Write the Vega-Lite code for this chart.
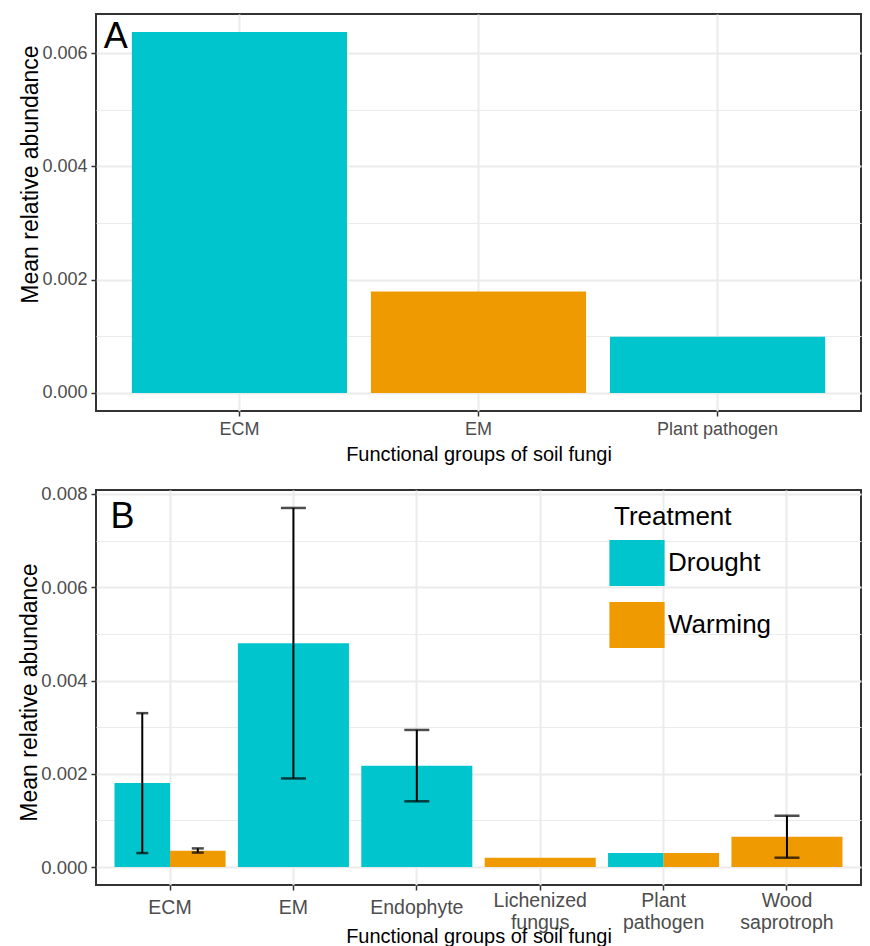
{
  "$schema": "https://vega.github.io/schema/vega-lite/v6.json",
  "background": "white",
  "padding": {"left": 17, "top": 13, "right": 8, "bottom": 0},
  "spacing": 18,
  "resolve": {"scale": {"color": "independent"}, "legend": {"color": "independent"}},
  "config": {
    "font": "Liberation Sans",
    "view": {"stroke": "#333333", "strokeWidth": 2},
    "axis": {
      "domain": false,
      "gridColor": "#EBEBEB",
      "tickColor": "#333333",
      "tickSize": 5,
      "tickWidth": 1.5,
      "labelColor": "#4D4D4D",
      "titleColor": "black",
      "titleFontWeight": "normal"
    }
  },
  "vconcat": [
    {
      "width": 765,
      "height": 397,
      "layer": [
        {
          "data": {
            "values": [
              {"group": "ECM", "treatment": "Drought", "mean": 0.00637},
              {"group": "EM", "treatment": "Warming", "mean": 0.00179},
              {"group": "Plant pathogen", "treatment": "Drought", "mean": 0.00099}
            ]
          },
          "mark": {"type": "bar"},
          "encoding": {
            "x": {
              "field": "group", "type": "nominal", "sort": ["ECM", "EM", "Plant pathogen"],
              "scale": {"domain": ["ECM", "EM", "Plant pathogen"], "paddingInner": 0.1, "paddingOuter": 0.15},
              "axis": {"title": "Functional groups of soil fungi", "grid": true, "labelAngle": 0, "labelFontSize": 18, "labelPadding": 4, "titleFontSize": 20, "titlePadding": 6, "gridWidth": 2}
            },
            "y": {
              "field": "mean", "type": "quantitative",
              "scale": {"domain": [-0.000319, 0.006689], "nice": false},
              "axis": {
                "title": "Mean relative abundance", "titleFontSize": 23, "titlePadding": -1, "titleY": 160,
                "values": [0, 0.001, 0.002, 0.003, 0.004, 0.005, 0.006],
                "labelExpr": "round(datum.value*1000) % 2 === 1 ? '' : format(datum.value, '.3f')",
                "labelFontSize": 18, "labelPadding": 4,
                "gridWidth": {"condition": {"test": "round(datum.value*1000) % 2 === 1", "value": 1}, "value": 2},
                "tickOpacity": {"condition": {"test": "round(datum.value*1000) % 2 === 1", "value": 0}, "value": 1}
              }
            },
            "y2": {"datum": 0},
            "color": {
              "field": "treatment", "type": "nominal",
              "scale": {"domain": ["Drought", "Warming"], "range": ["#00C5CD", "#EE9A00"]},
              "legend": null
            }
          }
        },
        {
          "data": {"values": [{"tag": "A"}]},
          "mark": {"type": "text", "align": "left", "baseline": "alphabetic", "fontSize": 36, "color": "black", "dx": -28},
          "encoding": {
            "x": {"datum": "ECM", "bandPosition": 0},
            "y": {"datum": 0.00608},
            "text": {"field": "tag"}
          }
        }
      ]
    },
    {
      "width": 765,
      "height": 395,
      "layer": [
        {
          "data": {
            "values": [
              {"group": "ECM", "treatment": "Drought", "mean": 0.0018, "lo": 0.0003, "hi": 0.0033},
              {"group": "ECM", "treatment": "Warming", "mean": 0.00035, "lo": 0.00031, "hi": 0.0004},
              {"group": "EM", "treatment": "Drought", "mean": 0.0048, "lo": 0.0019, "hi": 0.0077},
              {"group": "Endophyte", "treatment": "Drought", "mean": 0.00217, "lo": 0.00141, "hi": 0.00294},
              {"group": "Lichenized fungus", "treatment": "Warming", "mean": 0.0002, "lo": null, "hi": null},
              {"group": "Plant pathogen", "treatment": "Drought", "mean": 0.0003, "lo": null, "hi": null},
              {"group": "Plant pathogen", "treatment": "Warming", "mean": 0.0003, "lo": null, "hi": null},
              {"group": "Wood saprotroph", "treatment": "Warming", "mean": 0.00065, "lo": 0.0002, "hi": 0.0011}
            ]
          },
          "transform": [
            {"joinaggregate": [{"op": "count", "as": "n"}], "groupby": ["group"]}
          ],
          "layer": [
            {
              "transform": [{"filter": "datum.n === 1"}],
              "mark": {"type": "bar"},
              "encoding": {
                "x": {
                  "field": "group", "type": "nominal",
                  "sort": ["ECM", "EM", "Endophyte", "Lichenized fungus", "Plant pathogen", "Wood saprotroph"],
                  "scale": {"domain": ["ECM", "EM", "Endophyte", "Lichenized fungus", "Plant pathogen", "Wood saprotroph"], "paddingInner": 0.1, "paddingOuter": 0.15},
                  "axis": {
                    "title": "Functional groups of soil fungi", "grid": true, "labelAngle": 0, "labelFontSize": 19.5,
                    "labelExpr": "split(datum.label, ' ')", "labelBaseline": "middle", "labelLineHeight": 22,
                    "labelPadding": {"condition": {"test": "indexof(datum.value, ' ') >= 0", "value": 10}, "value": 17},
                    "titleFontSize": 20, "titlePadding": -5, "gridWidth": 2
                  }
                },
                "y": {
                  "field": "mean", "type": "quantitative",
                  "scale": {"domain": [-0.000385, 0.008085], "nice": false},
                  "axis": {
                    "title": "Mean relative abundance", "titleFontSize": 23, "titlePadding": -1, "titleY": 202,
                    "values": [0, 0.001, 0.002, 0.003, 0.004, 0.005, 0.006, 0.007, 0.008],
                    "labelExpr": "round(datum.value*1000) % 2 === 1 ? '' : format(datum.value, '.3f')",
                    "labelFontSize": 18.5, "labelPadding": 4,
                    "gridWidth": {"condition": {"test": "round(datum.value*1000) % 2 === 1", "value": 1}, "value": 2},
                    "tickOpacity": {"condition": {"test": "round(datum.value*1000) % 2 === 1", "value": 0}, "value": 1}
                  }
                },
                "y2": {"datum": 0},
                "color": {
                  "field": "treatment", "type": "nominal",
                  "scale": {"domain": ["Drought", "Warming"], "range": ["#00C5CD", "#EE9A00"]},
                  "legend": {
                    "orient": "none", "legendX": 518, "legendY": 14, "title": "Treatment",
                    "titleFontSize": 26, "titleFontWeight": "normal", "titleColor": "black", "titlePadding": 10,
                    "labelFontSize": 26, "labelColor": "black", "labelOffset": 8,
                    "symbolType": "M-1.2,-1H1.2V1H-1.2Z", "symbolSize": 2116, "symbolStrokeWidth": 0,
                    "rowPadding": 16, "padding": 0
                  }
                }
              }
            },
            {
              "transform": [{"filter": "datum.n === 2"}],
              "mark": {"type": "bar"},
              "encoding": {
                "x": {"field": "group", "type": "nominal"},
                "xOffset": {"field": "treatment", "type": "nominal", "scale": {"domain": ["Drought", "Warming"], "paddingInner": 0, "paddingOuter": 0}},
                "y": {"field": "mean", "type": "quantitative"},
                "y2": {"datum": 0},
                "color": {"field": "treatment", "type": "nominal"}
              }
            },
            {
              "transform": [{"filter": "datum.n === 1 && datum.hi != null"}],
              "mark": {"type": "rule", "color": "black", "strokeWidth": 2},
              "encoding": {
                "x": {"field": "group", "type": "nominal"},
                "y": {"field": "lo", "type": "quantitative"},
                "y2": {"field": "hi"}
              }
            },
            {
              "transform": [{"filter": "datum.n === 2 && datum.hi != null"}],
              "mark": {"type": "rule", "color": "black", "strokeWidth": 2},
              "encoding": {
                "x": {"field": "group", "type": "nominal"},
                "xOffset": {"field": "treatment", "type": "nominal"},
                "y": {"field": "lo", "type": "quantitative"},
                "y2": {"field": "hi"}
              }
            },
            {
              "transform": [{"filter": "datum.n === 1 && datum.hi != null"}, {"fold": ["lo", "hi"], "as": ["end", "val"]}],
              "mark": {"type": "tick", "color": "black", "thickness": 2.5, "size": 25},
              "encoding": {
                "x": {"field": "group", "type": "nominal"},
                "y": {"field": "val", "type": "quantitative"}
              }
            },
            {
              "transform": [{"filter": "datum.n === 2 && datum.hi != null"}, {"fold": ["lo", "hi"], "as": ["end", "val"]}],
              "mark": {"type": "tick", "color": "black", "thickness": 2.5, "size": 12},
              "encoding": {
                "x": {"field": "group", "type": "nominal"},
                "xOffset": {"field": "treatment", "type": "nominal"},
                "y": {"field": "val", "type": "quantitative"}
              }
            }
          ]
        },
        {
          "data": {"values": [{"tag": "B"}]},
          "mark": {"type": "text", "align": "left", "baseline": "alphabetic", "fontSize": 36, "color": "black", "dx": -4},
          "encoding": {
            "x": {"datum": "ECM", "bandPosition": 0},
            "y": {"datum": 0.00727},
            "text": {"field": "tag"}
          }
        }
      ]
    }
  ]
}
